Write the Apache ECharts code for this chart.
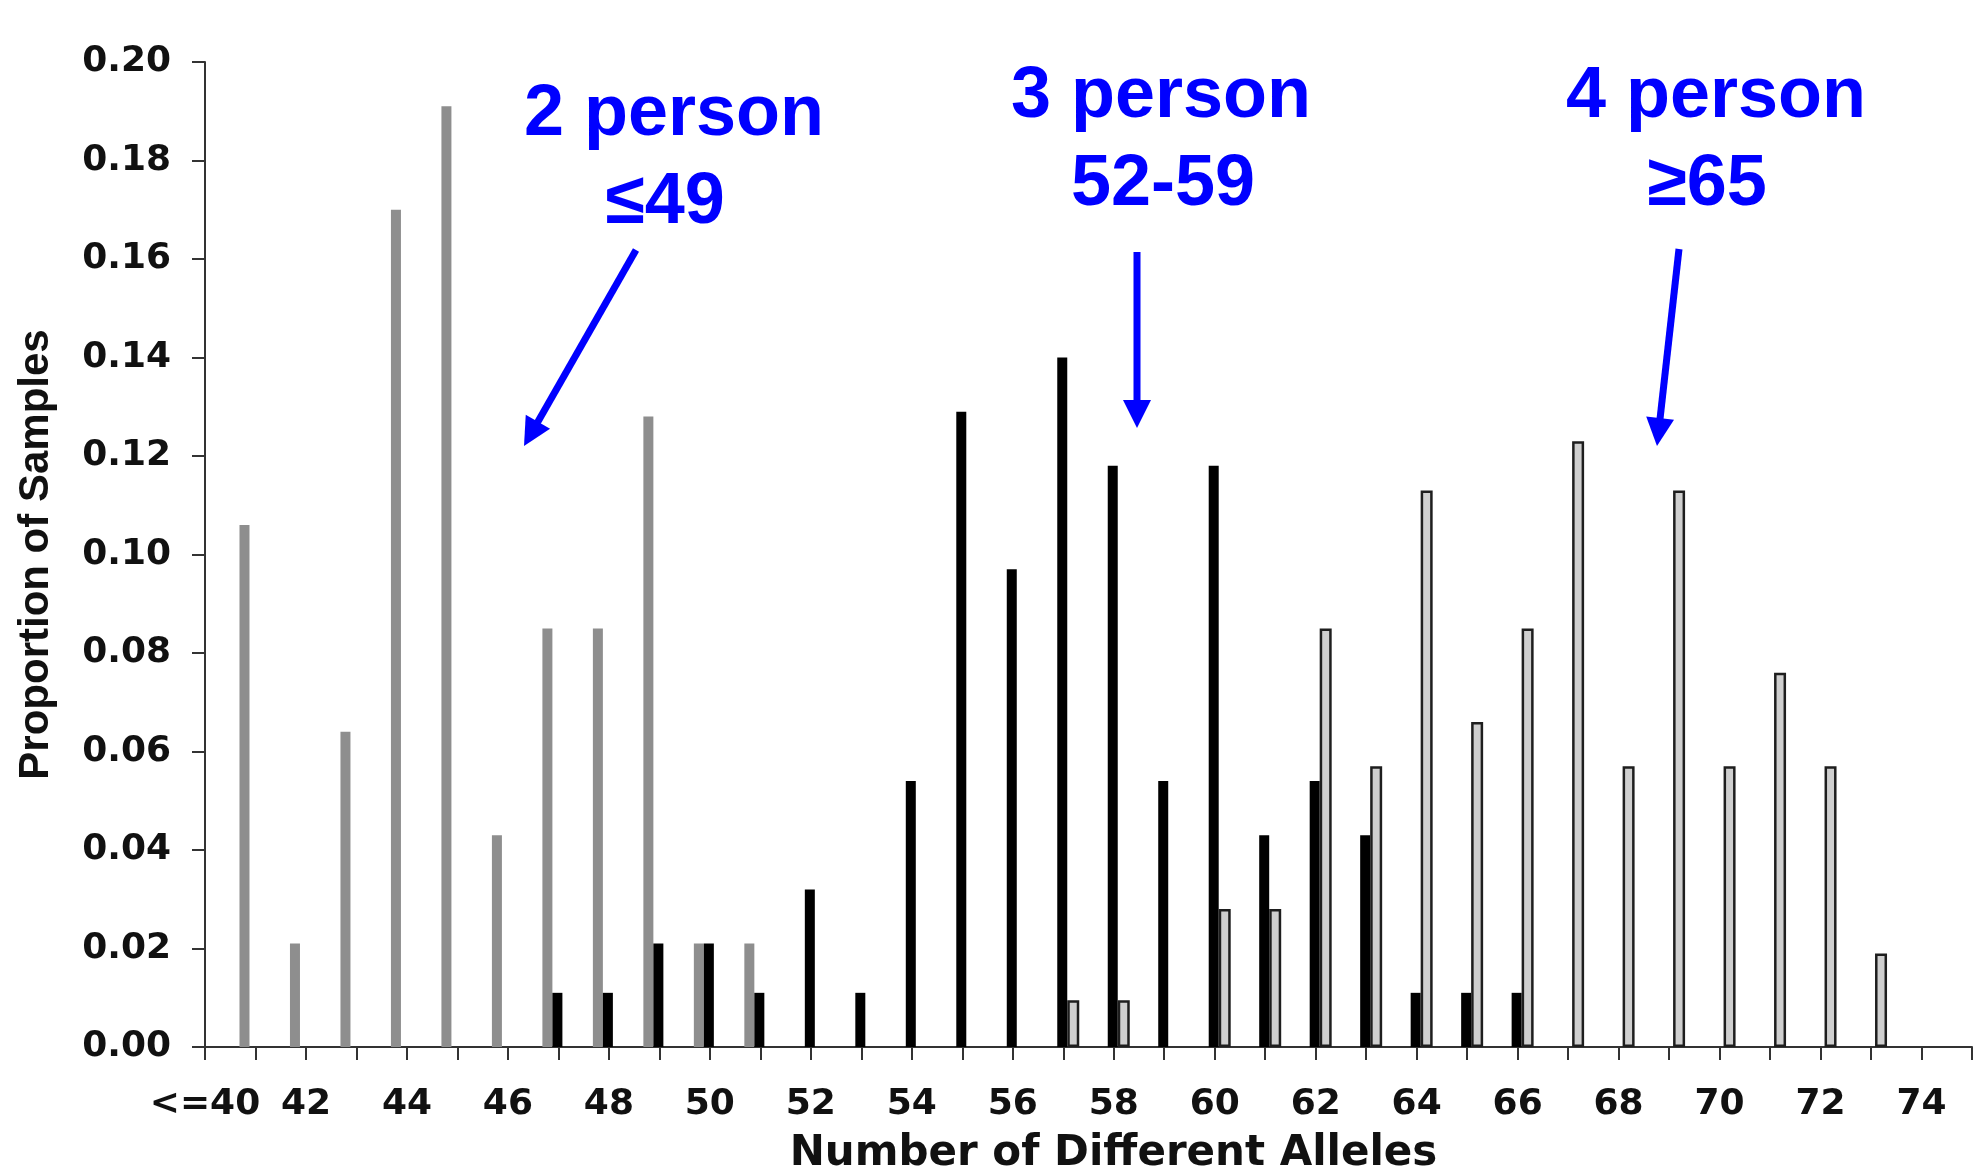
<!DOCTYPE html>
<html>
<head>
<meta charset="utf-8">
<title>Number of Different Alleles</title>
<script src="https://cdn.jsdelivr.net/npm/echarts@6/dist/echarts.min.js"></script>
<style>
  html, body { margin: 0; padding: 0; background: #fff; }
  #chart { width: 1984px; height: 1173px; }
</style>
</head>
<body>
<div id="chart"></div>
<script>
// categories, one per tick (the last tick closes the axis)
const alleles = ['<=40', '41', '42', '43', '44', '45', '46', '47', '48', '49',
  '50', '51', '52', '53', '54', '55', '56', '57', '58', '59',
  '60', '61', '62', '63', '64', '65', '66', '67', '68', '69',
  '70', '71', '72', '73', '74', '']

// 2 person mixtures (grey)
const twoPerson = [null, 0.106, 0.021, 0.064, 0.170, 0.191, 0.043, 0.085, 0.085, 0.128,
  0.021, 0.021, null, null, null, null, null, null, null, null,
  null, null, null, null, null, null, null, null, null, null,
  null, null, null, null, null, null]

// 3 person mixtures (black)
const threePerson = [null, null, null, null, null, null, null, 0.011, 0.011, 0.021,
  0.021, 0.011, 0.032, 0.011, 0.054, 0.129, 0.097, 0.140, 0.118, 0.054,
  0.118, 0.043, 0.054, 0.043, 0.011, 0.011, 0.011, null, null, null,
  null, null, null, null, null, null]

// 4 person mixtures (light, outlined)
const fourPerson = [null, null, null, null, null, null, null, null, null, null,
  null, null, null, null, null, null, null, 0.0095, 0.0095, null,
  0.028, 0.028, 0.085, 0.057, 0.113, 0.066, 0.085, 0.123, 0.057, 0.113,
  0.057, 0.076, 0.057, 0.019, null, null]

const yTicks = { min: 0, max: 0.2, step: 0.02 }

// annotation texts and arrows (from -> tip)
const notes = [
  { lines: ['2 person', '≤49'], x: [674, 665], y: [115, 203] },
  { lines: ['3 person', '52-59'], x: [1161, 1163], y: [97, 185] },
  { lines: ['4 person', '≥65'], x: [1716, 1707], y: [97, 185] }
]
const arrows = [
  [[636, 250], [524, 446]],
  [[1137, 252], [1137, 428]],
  [[1679, 249], [1657, 446]]
]

const BLUE = '#0000ff'
const AXIS = '#333'
const labelFont = { fontFamily: 'DejaVu Sans', fontWeight: 'bold', fontSize: 36, color: '#111' }

function arrowGraphics(from, tip) {
  const dx = tip[0] - from[0]
  const dy = tip[1] - from[1]
  const len = Math.hypot(dx, dy)
  const ux = dx / len
  const uy = dy / len
  const headLen = 28
  const headHalf = 14
  const bx = tip[0] - ux * headLen
  const by = tip[1] - uy * headLen
  return [
    {
      type: 'line',
      shape: { x1: from[0], y1: from[1], x2: bx + ux * 2, y2: by + uy * 2 },
      style: { stroke: BLUE, lineWidth: 7 },
      z: 100
    },
    {
      type: 'polygon',
      shape: {
        points: [
          tip,
          [bx - uy * headHalf, by + ux * headHalf],
          [bx + uy * headHalf, by - ux * headHalf]
        ]
      },
      style: { fill: BLUE },
      z: 100
    }
  ]
}

function noteGraphics(note) {
  return note.lines.map((text, i) => ({
    type: 'text',
    x: note.x[i],
    y: note.y[i],
    style: {
      text,
      fill: BLUE,
      font: 'bold 72px "Liberation Sans", Arial, sans-serif',
      textAlign: 'center',
      textVerticalAlign: 'middle'
    },
    z: 100
  }))
}

const graphics = []
notes.forEach(n => graphics.push(...noteGraphics(n)))
arrows.forEach(a => graphics.push(...arrowGraphics(a[0], a[1])))

const chart = echarts.init(document.getElementById('chart'), null, { renderer: 'canvas' })

chart.setOption({
  animation: false,
  backgroundColor: '#fff',
  grid: {
    left: 205, right: 12, top: 62, bottom: 126,
    containLabel: false,
    outerBoundsMode: 'none'
  },
  xAxis: {
    type: 'category',
    data: alleles,
    boundaryGap: false,
    name: 'Number of Different Alleles',
    nameLocation: 'middle',
    nameGap: 86,
    nameTextStyle: {
      fontFamily: 'DejaVu Sans', fontWeight: 'bold', fontSize: 42, color: '#111',
      padding: [0, 0, 0, 50]
    },
    axisLine: { lineStyle: { color: AXIS, width: 2 } },
    axisTick: { show: true, interval: 0, length: 13, lineStyle: { color: AXIS, width: 2 } },
    axisLabel: { ...labelFont, interval: 1, margin: 40 },
    splitLine: { show: false }
  },
  yAxis: {
    type: 'value',
    min: yTicks.min,
    max: yTicks.max,
    interval: yTicks.step,
    name: 'Proportion of Samples',
    nameLocation: 'middle',
    nameGap: 148,
    nameTextStyle: {
      fontFamily: 'Liberation Sans', fontWeight: 'bold', fontSize: 42, color: '#111'
    },
    axisLine: { show: true, lineStyle: { color: AXIS, width: 2 } },
    axisTick: { show: true, length: 13, lineStyle: { color: AXIS, width: 2 } },
    axisLabel: { ...labelFont, margin: 34, formatter: v => v.toFixed(2) },
    splitLine: { show: false }
  },
  series: [
    {
      name: '2 person',
      type: 'bar',
      data: twoPerson,
      barWidth: 10,
      barGap: '0%',
      itemStyle: { color: '#8e8e8e' }
    },
    {
      name: '3 person',
      type: 'bar',
      data: threePerson,
      barWidth: 10,
      barGap: '0%',
      itemStyle: { color: '#000' }
    },
    {
      name: '4 person',
      type: 'bar',
      data: fourPerson,
      barWidth: 12,
      barGap: '0%',
      itemStyle: { color: '#cfcfcf', borderColor: '#1e1e1e', borderWidth: 2.5 }
    }
  ],
  graphic: graphics
})
</script>
</body>
</html>
